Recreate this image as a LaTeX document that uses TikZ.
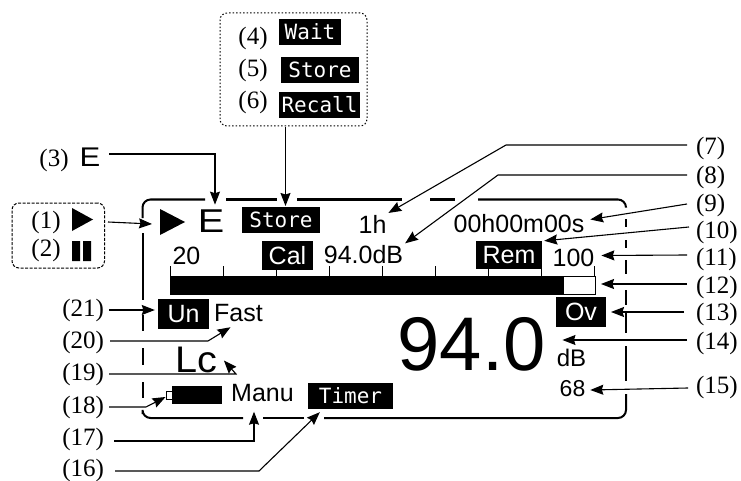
\documentclass[tikz,border=0pt]{standalone}
\usepackage{fontspec}
\usepackage{xcolor}
\setmainfont{Liberation Serif}
\newfontfamily\lcdfont{Liberation Sans}
\newfontfamily\tagfont{DejaVu Sans Mono}
\usetikzlibrary{arrows.meta,calc}
\newcommand{\fs}[1]{\fontsize{#1}{#1}\selectfont}
\tikzset{
  numright/.style={anchor=west,inner sep=0pt,outer xsep=9pt,font=\fs{25}},
  numleft/.style={anchor=east,inner sep=0pt,outer xsep=5pt,font=\fs{25}},
  numplain/.style={inner sep=0pt,font=\fs{25}},
  lcd/.style={inner sep=0pt,outer sep=2pt,font=\lcdfont\fs{25}},
  tagbox/.style={fill=black,text=white,inner sep=0pt,minimum height=26pt,font=\tagfont\fs{21}},
  flagbox/.style={fill=black,text=white,inner sep=0pt,font=\lcdfont\fs{25}},
  flow/.style={-{Stealth[length=13pt,width=10pt,inset=1.5pt]},line width=1.1pt,draw=black},
  frameline/.style={line width=2pt,draw=black,rounded corners=8pt},
  scaletick/.style={line width=0.9pt,draw=black}
}
\begin{document}
\begin{tikzpicture}[x=1pt,y=-1pt]
  \useasboundingbox (0,0) rectangle (741,481);
  % display frame
  \draw[frameline] (205,199.5) -- (142.5,199.5) -- (142.5,218);
  \draw[frameline] (226,199.5) -- (277,199.5);
  \draw[frameline] (297,199.5) -- (402,199.5);
  \draw[frameline] (430,199.5) -- (455,199.5);
  \draw[frameline] (478,199.5) -- (626,199.5) -- (626,207);
  \foreach \ya/\yb in {219/227,240/248,260/274,290/305,312/333,346/381}
    \draw[frameline] (626,\ya) -- (626,\yb);
  \draw[frameline] (626,394) -- (626,418) -- (324,418);
  \draw[frameline] (304,418) -- (263,418);
  \draw[frameline] (243,418) -- (142.5,418) -- (142.5,414);
  \foreach \ya/\yb in {233/300,315/331,348/365,382/398}
    \draw[frameline] (142.5,\ya) -- (142.5,\yb);
  % bar graph
  \node[draw=black,line width=0.9pt,fill=white,minimum width=425pt,minimum height=18pt,inner sep=0pt,outer sep=6pt] (bar) at (382.5,285) {};
  \fill[black] (170,276) rectangle (564,295);
  \foreach \i in {0,...,8}
    \draw[scaletick] ({170+53*\i},266) -- ({170+53*\i},276);
  % display symbols
  \node[minimum width=25pt,minimum height=26pt,inner sep=0pt,outer sep=8pt] (play) at (172.5,222) {};
  \fill[black] (160,209) -- (185,222) -- (160,235) -- cycle;
  \node[lcd,font=\lcdfont\fs{33},outer sep=5pt] (bigE) at (211,221) {\scalebox{1.2}[1]{E}};
  \node[tagbox,minimum width=78pt,outer sep=1pt] (storetag) at (281,220) {Store};
  \node[lcd] (hours) at (372.5,224) {1h};
  \node[lcd] (clock) at (519,223.5) {00h00m00s};
  \node[lcd] (low) at (186.5,255.5) {20};
  \node[flagbox,minimum width=51pt,minimum height=29pt] (cal) at (287.5,255.5) {Cal};
  \node[lcd] (calval) at (363.5,254.5) {94.0dB};
  \node[flagbox,minimum width=66pt,minimum height=28pt] (rem) at (509,255) {Rem};
  \node[lcd] (high) at (573.5,257.5) {100};
  \node[flagbox,minimum width=51pt,minimum height=30pt] (under) at (183.5,314) {Un};
  \node[lcd] (fast) at (238.5,313.5) {Fast};
  \node[flagbox,minimum width=50pt,minimum height=30pt,outer sep=5pt] (over) at (581,312) {Ov};
  \node[lcd,font=\lcdfont\fs{37}] (weight) at (196,359.5) {\scalebox{1.07}[1]{Lc}};
  \node[lcd,font=\lcdfont\fs{76}] (reading) at (471.5,344.5) {94.0};
  \node[lcd,font=\lcdfont\fs{24}] (unit) at (571.5,358) {dB};
  \node[lcd,font=\lcdfont\fs{23}] (leq) at (572.5,389) {68};
  \node[draw=black,line width=0.9pt,fill=white,minimum width=6pt,minimum height=8pt,inner sep=0pt] (cell) at (169,395) {};
  \node[fill=black,minimum width=50pt,minimum height=18pt,inner sep=0pt] (battery) at (197,395) {};
  \node[lcd] (manu) at (262.5,393) {Manu};
  \node[tagbox,minimum width=85pt] (timer) at (350.5,396) {Timer};
  % legends
  \node[draw=black,line width=1pt,dash pattern=on 1.5pt off 2pt,rounded corners=7pt,minimum width=147pt,minimum height=113pt,inner sep=0pt,outer sep=1.5pt] (popup) at (293.5,69.5) {};
  \node[numplain] (n4) at (253,38) {(4)};
  \node[numplain] (n5) at (253,70) {(5)};
  \node[numplain] (n6) at (253,102) {(6)};
  \node[tagbox,minimum width=62pt] (wait) at (310,32) {Wait};
  \node[tagbox,minimum width=78pt] (store) at (320,70) {Store};
  \node[tagbox,minimum width=81pt] (recall) at (319.5,105) {Recall};
  \node[draw=black,line width=1pt,dash pattern=on 3pt off 1.5pt,rounded corners=7pt,minimum width=92.5pt,minimum height=65pt,inner sep=0pt,outer sep=3.5pt] (runbox) at (58.25,235.5) {};
  \node[numplain] (n1) at (46,222) {(1)};
  \node[numplain] (n2) at (46,250) {(2)};
  \fill[black] (72,208) -- (93,219.5) -- (72,231) -- cycle;
  \fill[black] (72,241) rectangle (80,261) (83,241) rectangle (91,261);
  \node[numplain] (n3) at (54,160) {(3)};
  \node[lcd,font=\lcdfont\fs{27},outer sep=9pt] (smallE) at (90,157) {\scalebox{1.15}[1]{E}};
  % numbers at the sides
  \foreach \n/\yy in {7/148,8/177,9/205,10/232,11/259,12/287,13/314,14/343,15/387}
    \node[numright] (n\n) at (687,\yy) {(\n)};
  \foreach \n/\yy in {21/310,20/342,19/374,18/407,17/439,16/470}
    \node[numleft] (n\n) at (109,\yy) {(\n)};
  % elbows
  \coordinate (elbowA) at (506,145);
  \coordinate (elbowB) at (498,175);
  \coordinate (elbowC) at (208,341);
  \coordinate (elbowD) at (236,374);
  \coordinate (elbowE) at (146,407);
  \coordinate (elbowF) at (259,471);
  % connectors
  \draw[flow] (runbox.east |- play.west) -- ([yshift=-2pt]play.west);
  \draw[flow] ([yshift=3pt]smallE.east) -| ([xshift=4pt]bigE.north);
  \draw[flow] ([xshift=-8pt]popup.south) -- ([xshift=4.5pt]storetag.north);
  \draw[flow] ([yshift=3pt]n7.west) -- (elbowA) -- (hours.north east);
  \draw[flow] ([yshift=2pt]n8.west) -- (elbowB) -- (calval.north east);
  \draw[flow] ([yshift=1pt]n9.west) -- ([xshift=4pt,yshift=4pt]clock.east);
  \draw[flow] ([xshift=2pt,yshift=5pt]n10.west) -- ([xshift=2pt]rem.north east);
  \draw[flow] ([yshift=4pt]n11.west) -- ([xshift=5pt,yshift=2pt]high.east);
  \draw[flow] ([yshift=3pt]n12.west) -- (bar.east |- 0,284);
  \draw[flow] ([xshift=-3pt,yshift=2pt]n13.west) -- (over.east);
  \draw[flow] ([yshift=3pt]n14.west) -- ([xshift=15pt,yshift=4.5pt]reading.east);
  \draw[flow] ([xshift=1pt,yshift=-1pt]n15.west) -- ([xshift=3pt,yshift=-1pt]leq.east);
  \draw[flow] (n21.east) -- ([xshift=-3pt,yshift=4pt]under.west);
  \draw[flow] ([xshift=1pt,yshift=1pt]n20.east) -- (elbowC) -- ([xshift=-8pt,yshift=-3pt]fast.south);
  \draw[flow] (n19.east) -- (elbowD) -- ([xshift=5pt,yshift=-1pt]weight.east);
  \draw[flow] (n18.east) -- (elbowE) -- ([yshift=-2pt]cell.west);
  \draw[flow] ([xshift=5pt,yshift=-2pt]n17.east) -| ([xshift=-8.5pt,yshift=-8pt]manu.south);
  \draw[flow] ([xshift=6pt,yshift=-1pt]n16.east) -- (elbowF) -- ([xshift=12pt,yshift=-3pt]timer.south west);
\end{tikzpicture}
\end{document}
